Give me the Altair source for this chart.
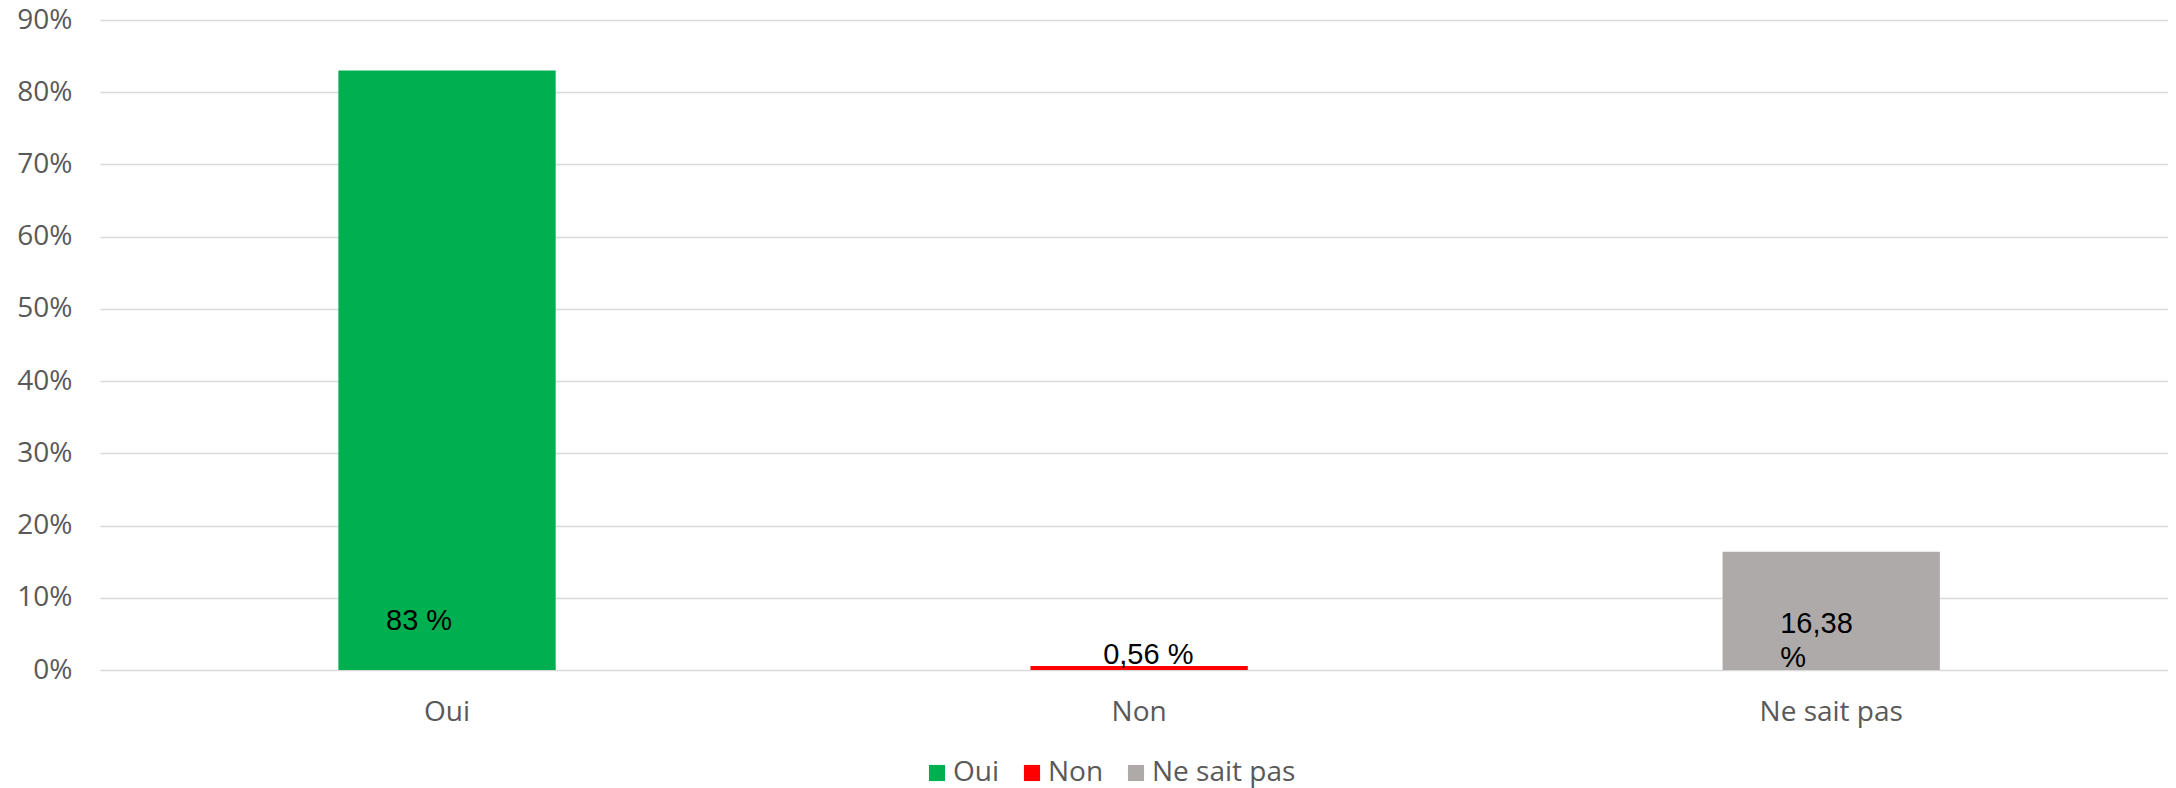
import altair as alt
import pandas as pd

categories = ["Oui", "Non", "Ne sait pas"]
values = [0.83, 0.0056, 0.1638]
labels = ["83 %", "0,56 %", "16,38\n%"]
colors = ["#00B050", "#FF0000", "#AEAAAA"]
y_ticks = [0, 0.1, 0.2, 0.3, 0.4, 0.5, 0.6, 0.7, 0.8, 0.9]

df = pd.DataFrame({"cat": categories, "val": values, "lab": labels})

AX_FONT = "Open Sans"
LBL_FONT = "Liberation Sans"

x = alt.X("cat:N", sort=categories, title=None,
          scale=alt.Scale(paddingInner=0.686, paddingOuter=0.337, align=0.511),
          axis=alt.Axis(labelAngle=0, labelFont=AX_FONT, labelFontSize=28,
                        labelColor="#595959", labelPadding=28, ticks=False,
                        domain=False, grid=False))
y = alt.Y("val:Q", title=None,
          scale=alt.Scale(domain=[0, 0.9], nice=False),
          axis=alt.Axis(values=y_ticks, format=".0%", labelFont=AX_FONT,
                        labelFontSize=28, labelColor="#595959", labelPadding=28,
                        ticks=False, domain=False, gridColor="#D9D9D9",
                        gridWidth=1.5))

color = alt.Color("cat:N", sort=categories,
                  scale=alt.Scale(domain=categories, range=colors),
                  legend=alt.Legend(title=None, orient="none", direction="horizontal",
                                    legendX=823, legendY=739, symbolType="square",
                                    symbolSize=260, symbolStrokeWidth=0,
                                    labelFont=AX_FONT, labelFontSize=28,
                                    labelColor="#595959", labelOffset=2,
                                    columnPadding=18))

bars = alt.Chart(df).mark_bar().encode(x=x, y=y, color=color)

def lab_layer(cat, **kw):
    return alt.Chart(df).transform_filter(alt.datum.cat == cat).mark_text(
        font=LBL_FONT, fontSize=29, color="black", lineBreak="\n", **kw
    ).encode(x=alt.X("cat:N", sort=categories), y=alt.datum(0), text="lab:N")

t1 = lab_layer("Oui", align="left", baseline="alphabetic", dx=-61, dy=-40)
t2 = lab_layer("Non", align="left", baseline="alphabetic", dx=-36, dy=-6)
t3 = lab_layer("Ne sait pas", align="left", baseline="top", dx=-51, dy=-60, lineHeight=34)

chart = alt.layer(bars, t1, t2, t3).properties(
    width=2068, height=650,
    autosize=alt.AutoSizeParams(type="none"),
    padding={"left": 92, "top": 12, "right": 0, "bottom": 118},
).configure_view(stroke=None)

chart.save("out.html", embed_options={"renderer": "svg", "actions": False})
